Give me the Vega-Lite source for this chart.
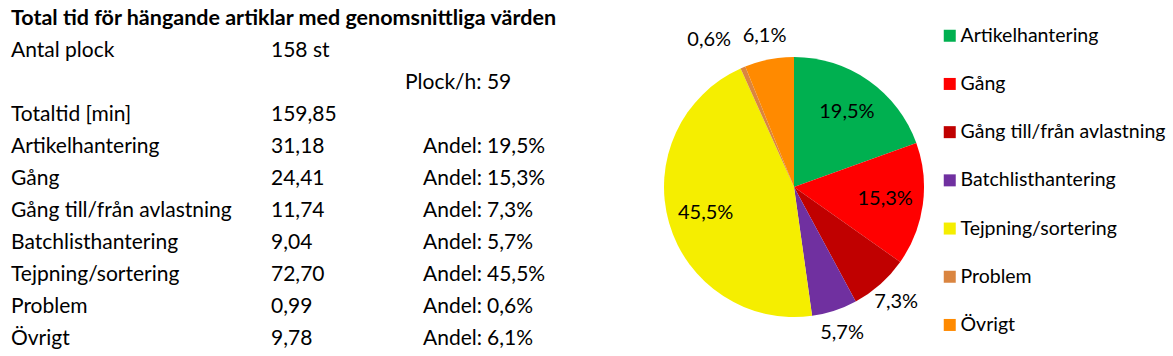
{
  "$schema": "https://vega.github.io/schema/vega-lite/v6.json",
  "padding": 0,
  "spacing": 0,
  "background": "white",
  "config": {
    "view": {"stroke": null},
    "font": "Lato",
    "locale": {"number": {"decimal": ",", "thousands": " ", "grouping": [3], "currency": ["", " kr"]}},
    "legend": {
      "orient": "none",
      "legendX": 940,
      "legendY": 26,
      "symbolType": "square",
      "symbolSize": 144,
      "symbolStrokeWidth": 0,
      "labelFont": "Lato",
      "labelFontSize": 19.5,
      "labelColor": "black",
      "labelOffset": 1,
      "rowPadding": 27.2,
      "labelLimit": 300
    }
  },
  "datasets": {
    "kategorier": [
      {"nr": 4, "kategori": "Artikelhantering", "minuter": 31.18, "andel": 0.195},
      {"nr": 5, "kategori": "Gång", "minuter": 24.41, "andel": 0.153},
      {"nr": 6, "kategori": "Gång till/från avlastning", "minuter": 11.74, "andel": 0.073},
      {"nr": 7, "kategori": "Batchlisthantering", "minuter": 9.04, "andel": 0.057},
      {"nr": 8, "kategori": "Tejpning/sortering", "minuter": 72.70, "andel": 0.455},
      {"nr": 9, "kategori": "Problem", "minuter": 0.99, "andel": 0.006},
      {"nr": 10, "kategori": "Övrigt", "minuter": 9.78, "andel": 0.061}
    ],
    "sammanfattning": [
      {"nr": 1, "etikett": "Antal plock", "varde": "158 st"},
      {"nr": 3, "etikett": "Totaltid [min]", "varde": "159,85"}
    ],
    "plocktakt": [
      {"nr": 2, "text": "Plock/h: 59"}
    ],
    "rubrik": [
      {"nr": 0, "text": "Total tid för hängande artiklar med genomsnittliga värden"}
    ]
  },
  "hconcat": [
    {
      "width": 640,
      "height": 356,
      "layer": [
        {
          "data": {"name": "rubrik"},
          "mark": {"type": "text", "align": "left", "baseline": "alphabetic", "fontSize": 21.5, "fontWeight": "bold", "font": "Lato"},
          "encoding": {
            "x": {"datum": 1, "type": "quantitative", "axis": null, "scale": {"domain": [1, 2, 3, 4, 5], "range": [11, 271, 405, 423, 487]}},
            "y": {"field": "nr", "type": "quantitative", "axis": null, "scale": {"domain": [0, 11], "range": [25, 377]}},
            "text": {"field": "text"}
          }
        },
        {
          "data": {"name": "sammanfattning"},
          "mark": {"type": "text", "align": "left", "baseline": "alphabetic", "fontSize": 21},
          "encoding": {
            "x": {"datum": 1, "type": "quantitative"},
            "y": {"field": "nr", "type": "quantitative"},
            "text": {"field": "etikett"}
          }
        },
        {
          "data": {"name": "sammanfattning"},
          "mark": {"type": "text", "align": "left", "baseline": "alphabetic", "fontSize": 21},
          "encoding": {
            "x": {"datum": 2, "type": "quantitative"},
            "y": {"field": "nr", "type": "quantitative"},
            "text": {"field": "varde"}
          }
        },
        {
          "data": {"name": "plocktakt"},
          "mark": {"type": "text", "align": "left", "baseline": "alphabetic", "fontSize": 21},
          "encoding": {
            "x": {"datum": 3, "type": "quantitative"},
            "y": {"field": "nr", "type": "quantitative"},
            "text": {"field": "text"}
          }
        },
        {
          "data": {"name": "kategorier"},
          "mark": {"type": "text", "align": "left", "baseline": "alphabetic", "fontSize": 21},
          "encoding": {
            "x": {"datum": 1, "type": "quantitative"},
            "y": {"field": "nr", "type": "quantitative"},
            "text": {"field": "kategori"}
          }
        },
        {
          "data": {"name": "kategorier"},
          "mark": {"type": "text", "align": "left", "baseline": "alphabetic", "fontSize": 21},
          "encoding": {
            "x": {"datum": 2, "type": "quantitative"},
            "y": {"field": "nr", "type": "quantitative"},
            "text": {"field": "minuter", "type": "quantitative", "format": ",.2f"}
          }
        },
        {
          "data": {"name": "kategorier"},
          "mark": {"type": "text", "align": "left", "baseline": "alphabetic", "fontSize": 21, "text": "Andel:"},
          "encoding": {
            "x": {"datum": 4, "type": "quantitative"},
            "y": {"field": "nr", "type": "quantitative"}
          }
        },
        {
          "data": {"name": "kategorier"},
          "mark": {"type": "text", "align": "left", "baseline": "alphabetic", "fontSize": 21},
          "encoding": {
            "x": {"datum": 5, "type": "quantitative"},
            "y": {"field": "nr", "type": "quantitative"},
            "text": {"field": "andel", "type": "quantitative", "format": ".1%"}
          }
        }
      ]
    },
    {
      "width": 306,
      "height": 374,
      "data": {"name": "kategorier"},
      "encoding": {
        "theta": {"field": "minuter", "type": "quantitative", "stack": true},
        "order": {"field": "nr", "type": "quantitative", "sort": "ascending"}
      },
      "layer": [
        {
          "mark": {"type": "arc", "outerRadius": 130},
          "encoding": {
            "color": {
              "field": "kategori",
              "type": "nominal",
              "title": null,
              "scale": {
                "domain": ["Artikelhantering", "Gång", "Gång till/från avlastning", "Batchlisthantering", "Tejpning/sortering", "Problem", "Övrigt"],
                "range": ["#00B050", "#FF0000", "#C00000", "#7030A0", "#F5EE00", "#DA8540", "#FF8A00"]
              }
            }
          }
        },
        {
          "mark": {"type": "text", "radius": 92, "fontSize": 20, "color": "black"},
          "encoding": {
            "text": {"condition": {"test": "datum.andel < 0.1", "value": ""}, "field": "andel", "type": "quantitative", "format": ".1%"}
          }
        },
        {
          "mark": {"type": "text", "radius": 154, "fontSize": 20, "color": "black"},
          "encoding": {
            "text": {"condition": {"test": "datum.andel >= 0.1 || datum.kategori == 'Problem'", "value": ""}, "field": "andel", "type": "quantitative", "format": ".1%"}
          }
        },
        {
          "mark": {"type": "text", "radius": 160, "fontSize": 20, "color": "black", "align": "right"},
          "encoding": {
            "text": {"condition": {"test": "datum.kategori != 'Problem'", "value": ""}, "field": "andel", "type": "quantitative", "format": ".1%"}
          }
        }
      ]
    }
  ]
}
